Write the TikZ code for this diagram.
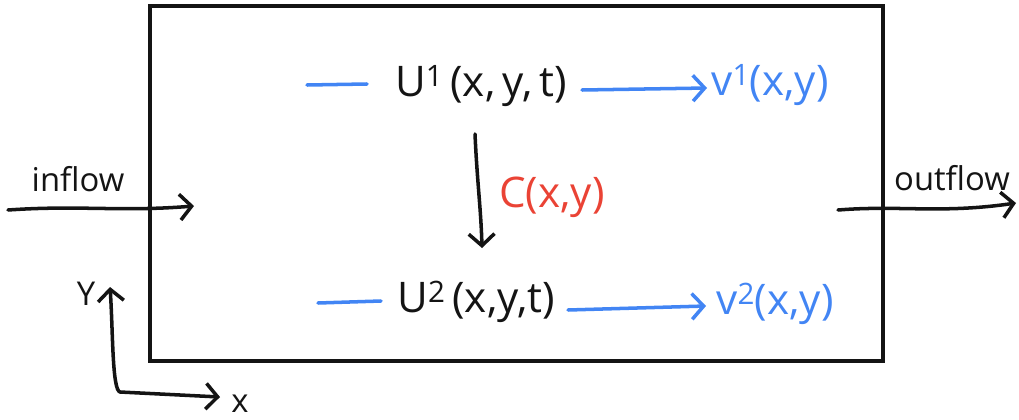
\documentclass[tikz,border=0pt]{standalone}
\usepackage{fontspec}
\setmainfont{Open Sans}
\usetikzlibrary{arrows.meta}
\definecolor{inkblue}{RGB}{66,133,244}
\definecolor{inkred}{RGB}{234,67,53}
\definecolor{ink}{RGB}{20,20,20}
\tikzset{
  stroke/.style={line width=3pt, line cap=round, line join=round, draw=ink},
  bluestroke/.style={line width=3pt, line cap=round, line join=round, draw=inkblue},
  barb/.style={-{Straight Barb[length=10pt,width=22pt,line width=3pt]}},
  lbl/.style={inner sep=0pt, font=\fontsize{28}{34}\selectfont},
  formula/.style={inner sep=0pt, font=\fontsize{36}{42}\selectfont},
}
\begin{document}
\begin{tikzpicture}[x=0.03cm,y=-0.03cm]
\useasboundingbox (0,0) rectangle (1019,419);
% main box
\draw[line width=3.6pt, draw=ink] (150,6) rectangle (883,361);
% inflow / outflow
\node[lbl, text=ink] (inflow) at (78,179) {inflow};
\coordinate (inA) at (8,210);
\coordinate (inB) at (194,206);
\draw[stroke, barb] (inA) .. controls (80,205) and (120,212) .. (inB);
\node[lbl, text=ink] (outflow) at (952,178) {outflow};
\coordinate (outA) at (838,210);
\coordinate (outB) at (1016,203);
\draw[stroke, barb] (outA) .. controls (900,205) and (940,214) .. (outB);
% top row
\node[formula, text=ink] (u1) at (481,86) {U\textsuperscript{1}\,(x,\,y,\,t)};
\coordinate (u1a) at (307,85);
\coordinate (u1b) at (367,84);
\draw[bluestroke] (u1a) -- (u1b);
\node[formula, text=inkblue] (v1) at (770,85) {v\textsuperscript{1}(x,y)};
\coordinate (a1a) at (582,90);
\coordinate (a1b) at (707,88);
\draw[bluestroke, barb] (a1a) -- (a1b);
% vertical
\coordinate (cA) at (475,134);
\coordinate (cB) at (482,248);
\draw[stroke, barb] (cA) .. controls (477,180) and (481,210) .. (cB);
\node[formula, text=inkred] (c) at (552,197) {C(x,y)};
% bottom row
\node[formula, text=ink] (u2) at (476,302) {U\textsuperscript{2}\,(x,y,t)};
\coordinate (u2a) at (318,303);
\coordinate (u2b) at (381,301);
\draw[bluestroke] (u2a) -- (u2b);
\node[formula, text=inkblue] (v2) at (775,304) {v\textsuperscript{2}(x,y)};
\coordinate (a2a) at (568,310);
\coordinate (a2b) at (706,306);
\draw[bluestroke, barb] (a2a) -- (a2b);
% axes
\coordinate (yTip) at (110,287);
\coordinate (corner) at (120,392);
\coordinate (xTip) at (220,397);
\draw[stroke, {Straight Barb[length=10pt,width=22pt,line width=3pt]}-{Straight Barb[length=10pt,width=22pt,line width=3pt]}] (yTip) .. controls (113,330) and (112,390) .. (corner) -- (xTip);
\node[lbl, text=ink] (ylab) at (86,294) {Y};
\node[lbl, text=ink] (xlab) at (240,404) {x};
\end{tikzpicture}
\end{document}
